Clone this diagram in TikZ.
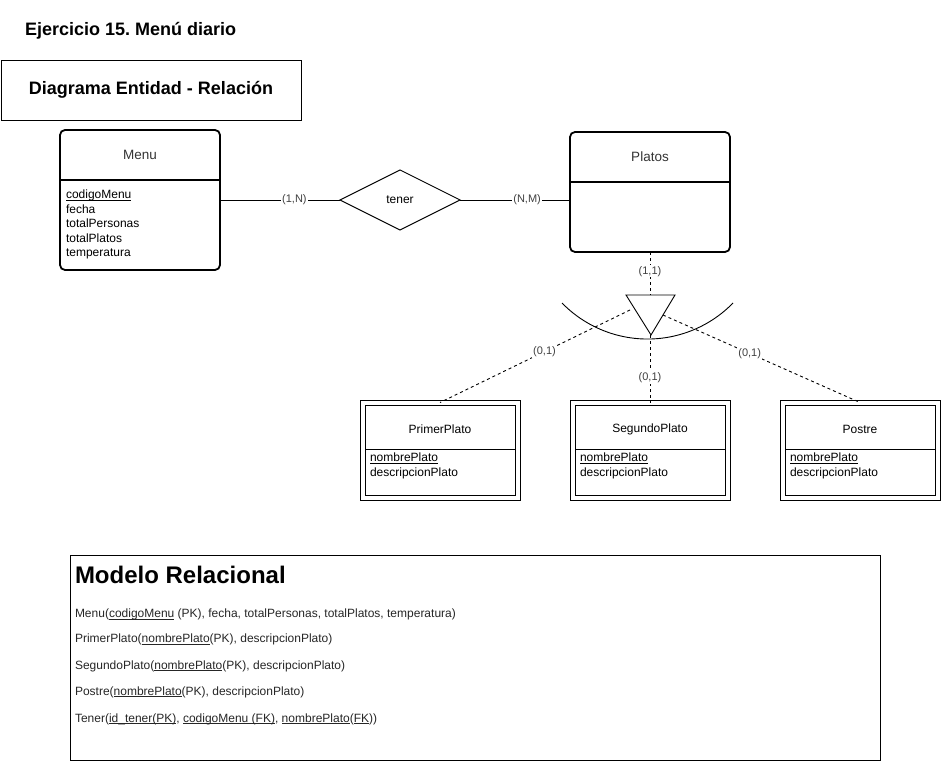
\documentclass[tikz,border=0pt]{standalone}
\usepackage{fontspec}
\setmainfont{Liberation Sans}
\usetikzlibrary{shapes.geometric}
\newcommand{\uln}[1]{\underline{\smash{#1}}\vphantom{#1}}
\begin{document}
\frenchspacing
\begin{tikzpicture}[x=1pt,y=-1pt,
  every node/.style={inner sep=0pt, outer sep=0pt},
  entbox/.style={draw, line width=1.8pt, rounded corners=5pt, minimum width=160pt},
  weakbox/.style={draw, line width=1pt, double, double distance=4pt, minimum width=155pt, minimum height=95pt},
  rel/.style={draw, diamond, line width=0.9pt, minimum width=120pt, minimum height=60pt, font=\fontsize{12}{14}\selectfont},
  ttl/.style={font=\fontsize{13.5}{16}\selectfont, text=black!80},
  sttl/.style={font=\fontsize{12}{14}\selectfont, text=black},
  attr/.style={font=\fontsize{12}{14.5}\selectfont, align=left, anchor=north west},
  lab/.style={fill=white, inner sep=1pt, font=\fontsize{11}{13}\selectfont, text=black!75},
  conn/.style={line width=0.9pt},
  dconn/.style={line width=0.9pt, dash pattern=on 3pt off 3pt},
  rline/.style={anchor=west, font=\fontsize{12}{14}\selectfont, text=black!85}
]
\useasboundingbox (0,0) rectangle (942,762);

% headings
\node[anchor=west, font=\fontsize{18}{21}\selectfont\bfseries] (titulo) at (25,31) {Ejercicio 15. Menú diario};
\node[draw, line width=0.9pt, minimum width=300pt, minimum height=60pt, font=\fontsize{18}{21}\selectfont\bfseries] (der) at (151,90) {Diagrama Entidad - Relación};

% Menu entity
\node[entbox, minimum height=140pt] (menu) at (140,200) {};
\draw[line width=1.2pt] (menu.west |- 0,180) -- (menu.east |- 0,180);
\node[ttl] (menut) at (140,155) {Menu};
\node[attr] (menua) at (66,190) {\uln{codigoMenu}\\fecha\\totalPersonas\\totalPlatos\\temperatura};

% Platos entity
\node[entbox, minimum height=120pt] (platos) at (650,192) {};
\draw[line width=1.2pt] (platos.west |- 0,182) -- (platos.east |- 0,182);
\node[ttl] (platost) at (650,157) {Platos};

% relationship
\node[rel] (tener) at (400,200) {tener};
\draw[conn] (menu.east |- tener) -- node[lab, pos=0.62] {(1,N)} (tener.west);
\draw[conn] (tener.east) -- node[lab, pos=0.61] {(N,M)} (platos.west |- tener);

% ISA triangle and arc
\coordinate (tA) at (626,295);
\coordinate (tB) at (675,295);
\coordinate (tC) at (651,335);
\coordinate (ttop) at (650,295);
\draw[line width=0.9pt] (tA) -- (tB) -- (tC) -- cycle;
\coordinate (arcL) at (562,303);
\draw[line width=0.9pt] (arcL) arc[start angle=135.7, end angle=44.3, radius=119.5];
\coordinate (tl) at (630,310);
\coordinate (tr) at (663,315);
\coordinate (tb) at (650,335);

\draw[dconn] (platos.south) -- node[lab, pos=0.45] {(1,1)} (ttop);

% sub entities
\node[weakbox] (primer) at (440,450) {};
\node[weakbox] (segundo) at (650,450) {};
\node[weakbox] (postre) at (860,450) {};
\foreach \n/\cx/\t in {primer/440/PrimerPlato, segundo/650/SegundoPlato, postre/860/Postre}{
  \draw[line width=0.9pt] (\cx-75,449) -- (\cx+75,449);
  \node[sttl] at (\cx,429) {\t};
  \node[attr] at (\cx-70,453) {\uln{nombrePlato}\\descripcionPlato};
}

\draw[dconn] (tl) -- node[lab, pos=0.45] {(0,1)} (primer.north);
\draw[dconn] (tb) -- node[lab, pos=0.63] {(0,1)} (segundo.north);
\draw[dconn] (tr) -- node[lab, pos=0.44] {(0,1)} (postre.north);

% Modelo relacional
\node[draw, line width=0.9pt, minimum width=810pt, minimum height=205pt] (modelo) at (475,657.5) {};
\node[anchor=west, font=\fontsize{24}{28}\selectfont\bfseries] (mrt) at (75,575) {Modelo Relacional};
\node[rline] (r1) at (75,614.5) {Menu(\uln{codigoMenu} (PK), fecha, totalPersonas, totalPlatos, temperatura)};
\node[rline] (r2) at (75,639.5) {PrimerPlato(\uln{nombrePlato}(PK), descripcionPlato)};
\node[rline] (r3) at (75,666) {SegundoPlato(\uln{nombrePlato}(PK), descripcionPlato)};
\node[rline] (r4) at (75,692) {Postre(\uln{nombrePlato}(PK), descripcionPlato)};
\node[rline] (r5) at (75,719) {Tener(\uln{id\_tener(PK)}, \uln{codigoMenu (FK)}, \uln{nombrePlato}(\uln{FK}))};
\end{tikzpicture}
\end{document}
